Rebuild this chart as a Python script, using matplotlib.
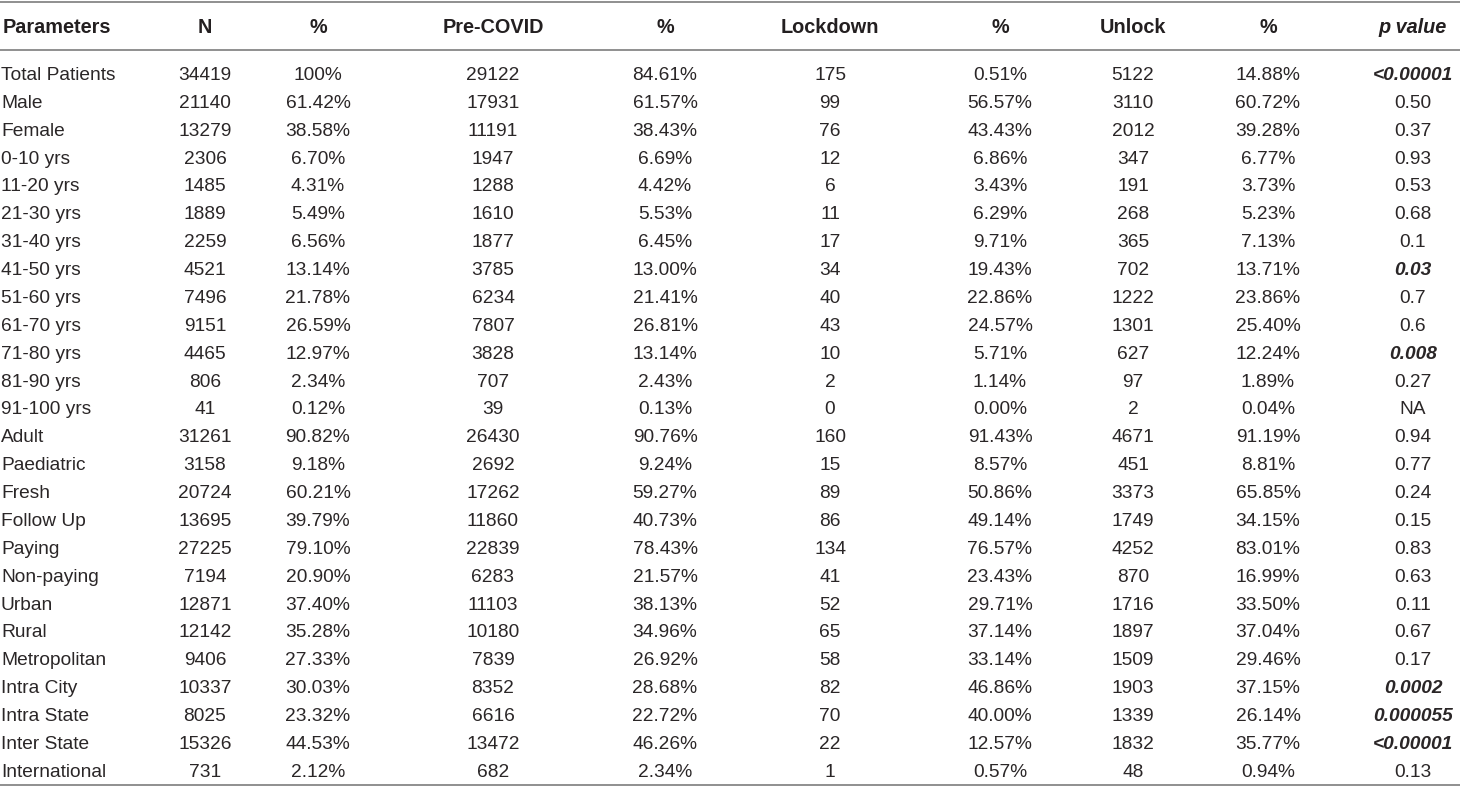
import matplotlib.pyplot as plt

headers = ["Parameters", "N", "%", "Pre-COVID", "%", "Lockdown", "%", "Unlock", "%", "p value"]

params = ["Total Patients", "Male", "Female", "0-10 yrs", "11-20 yrs", "21-30 yrs", "31-40 yrs",
          "41-50 yrs", "51-60 yrs", "61-70 yrs", "71-80 yrs", "81-90 yrs", "91-100 yrs", "Adult",
          "Paediatric", "Fresh", "Follow Up", "Paying", "Non-paying", "Urban", "Rural",
          "Metropolitan", "Intra City", "Intra State", "Inter State", "International"]
n_total = ["34419", "21140", "13279", "2306", "1485", "1889", "2259", "4521", "7496", "9151", "4465",
           "806", "41", "31261", "3158", "20724", "13695", "27225", "7194", "12871", "12142", "9406",
           "10337", "8025", "15326", "731"]
pct_total = ["100%", "61.42%", "38.58%", "6.70%", "4.31%", "5.49%", "6.56%", "13.14%", "21.78%",
             "26.59%", "12.97%", "2.34%", "0.12%", "90.82%", "9.18%", "60.21%", "39.79%", "79.10%",
             "20.90%", "37.40%", "35.28%", "27.33%", "30.03%", "23.32%", "44.53%", "2.12%"]
n_pre = ["29122", "17931", "11191", "1947", "1288", "1610", "1877", "3785", "6234", "7807", "3828",
         "707", "39", "26430", "2692", "17262", "11860", "22839", "6283", "11103", "10180", "7839",
         "8352", "6616", "13472", "682"]
pct_pre = ["84.61%", "61.57%", "38.43%", "6.69%", "4.42%", "5.53%", "6.45%", "13.00%", "21.41%",
           "26.81%", "13.14%", "2.43%", "0.13%", "90.76%", "9.24%", "59.27%", "40.73%", "78.43%",
           "21.57%", "38.13%", "34.96%", "26.92%", "28.68%", "22.72%", "46.26%", "2.34%"]
n_lock = ["175", "99", "76", "12", "6", "11", "17", "34", "40", "43", "10", "2", "0", "160", "15",
          "89", "86", "134", "41", "52", "65", "58", "82", "70", "22", "1"]
pct_lock = ["0.51%", "56.57%", "43.43%", "6.86%", "3.43%", "6.29%", "9.71%", "19.43%", "22.86%",
            "24.57%", "5.71%", "1.14%", "0.00%", "91.43%", "8.57%", "50.86%", "49.14%", "76.57%",
            "23.43%", "29.71%", "37.14%", "33.14%", "46.86%", "40.00%", "12.57%", "0.57%"]
n_unlock = ["5122", "3110", "2012", "347", "191", "268", "365", "702", "1222", "1301", "627", "97",
            "2", "4671", "451", "3373", "1749", "4252", "870", "1716", "1897", "1509", "1903",
            "1339", "1832", "48"]
pct_unlock = ["14.88%", "60.72%", "39.28%", "6.77%", "3.73%", "5.23%", "7.13%", "13.71%", "23.86%",
              "25.40%", "12.24%", "1.89%", "0.04%", "91.19%", "8.81%", "65.85%", "34.15%", "83.01%",
              "16.99%", "33.50%", "37.04%", "29.46%", "37.15%", "26.14%", "35.77%", "0.94%"]
p_values = ["<0.00001", "0.50", "0.37", "0.93", "0.53", "0.68", "0.1", "0.03", "0.7", "0.6", "0.008",
            "0.27", "NA", "0.94", "0.77", "0.24", "0.15", "0.83", "0.63", "0.11", "0.67", "0.17",
            "0.0002", "0.000055", "<0.00001", "0.13"]
significant = ["<0.00001", "0.03", "0.008", "0.0002", "0.000055"]

columns = [params, n_total, pct_total, n_pre, pct_pre, n_lock, pct_lock, n_unlock, pct_unlock, p_values]

W, H = 1460, 787
fig = plt.figure(figsize=(W / 100, H / 100), dpi=100)
ax = fig.add_axes([0, 0, 1, 1])
ax.set_xlim(0, W)
ax.set_ylim(H, 0)
ax.axis("off")

plt.rcParams["font.family"] = ["Liberation Sans", "DejaVu Sans"]
fs = 13.8
fs_head = 14.3
col_x = [1, 205, 318, 493, 665, 830, 1000, 1133, 1268, 1413]

# rules
for y in [1.5, 50, 784.5]:
    ax.plot([0, W], [y, y], color="#8f8f8f", lw=1.4, solid_capstyle="butt")

# header
header_y = 27.5
for i, h in enumerate(headers):
    ha = "left" if i == 0 else "center"
    style = "italic" if h == "p value" else "normal"
    x = 3 if i == 0 else col_x[i]
    ax.text(x, header_y, h, ha=ha, va="center", fontsize=fs_head, fontweight="bold",
            fontstyle=style, color="#231f20")

# body rows
y0, dy = 75.5, 27.87
for r in range(len(params)):
    y = y0 + r * dy
    for c, col in enumerate(columns):
        val = col[r]
        ha = "left" if c == 0 else "center"
        kw = {}
        if c == 9 and val in significant:
            kw = dict(fontweight="bold", fontstyle="italic")
        ax.text(col_x[c], y, val, ha=ha, va="center", fontsize=fs, color="#2a2627", **kw)

fig.savefig("out.png", dpi=100)
